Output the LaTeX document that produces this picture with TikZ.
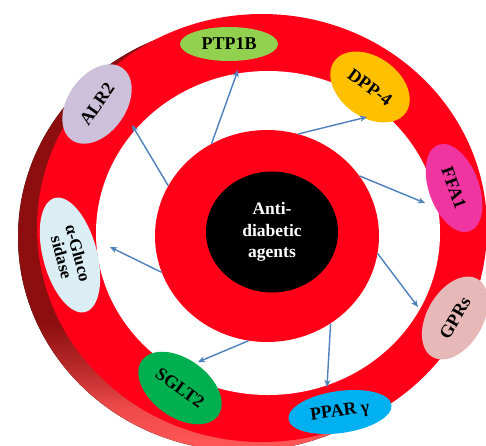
\documentclass[tikz,border=0pt]{standalone}
\usepackage{fontspec}
\setmainfont{Liberation Serif}
\usetikzlibrary{shapes.geometric,arrows.meta}

\definecolor{ringred}{RGB}{255,0,24}
\definecolor{sidedark}{RGB}{140,14,14}
\definecolor{sidelight}{RGB}{255,85,85}
\definecolor{arrowblue}{RGB}{79,129,189}
\definecolor{ptpgreen}{RGB}{146,208,80}
\definecolor{dppgold}{RGB}{255,192,0}
\definecolor{ffapink}{RGB}{240,52,160}
\definecolor{gprrose}{RGB}{230,185,184}
\definecolor{pparblue}{RGB}{0,176,240}
\definecolor{sgltgreen}{RGB}{0,176,80}
\definecolor{glucoblue}{RGB}{218,238,243}
\definecolor{alrlilac}{RGB}{204,192,218}

\pgfdeclareverticalshading{ringside}{100bp}{color(0bp)=(sidelight); color(26bp)=(sidelight); color(30bp)=(sidelight!85!sidedark); color(34bp)=(sidelight!45!sidedark); color(40bp)=(sidedark); color(100bp)=(sidedark)}

\tikzset{
  target/.style={ellipse, inner sep=0pt, font=\fontsize{18}{19}\selectfont\bfseries, text=black},
  link/.style={line width=0.5mm, color=arrowblue, -{Stealth[length=7pt, width=6pt, inset=2pt]}}
}

\begin{document}
\begin{tikzpicture}[x=1pt, y=-1pt]
		%%%%% START %%%%%
		\useasboundingbox (0, 0) rectangle (486, 445);
		
		% ring: side, face and hole
		\fill[shading=ringside] (243, 237) ellipse (225 and 214);
		\fill[ringred] (262, 228) ellipse (225 and 214);
		\fill[white] (268, 233) ellipse (172 and 162);
		
		% hub
		\node[ellipse, fill=ringred, inner sep=0pt, minimum width=224pt, minimum height=212pt] (hub) at (267, 236) {};
		\node[ellipse, fill=black, inner sep=0pt, minimum width=132pt, minimum height=121pt, text=white, align=center,
		      font=\fontsize{17.5}{21.5}\selectfont\bfseries] (core) at (272, 232) {Anti-\\diabetic\\agents};
		
		% targets
		\node[target, fill=ptpgreen, minimum width=98pt, minimum height=34pt] (ptp) at (229, 44) {PTP1B};
		\node[target, fill=dppgold, minimum width=88pt, minimum height=60pt, rotate=-36] (dpp) at (370, 87) {DPP-4};
		\node[target, fill=ffapink, minimum width=92pt, minimum height=50pt, rotate=-70] (ffa) at (454, 188) {FFA1};
		\node[target, fill=gprrose, minimum width=90pt, minimum height=56pt, rotate=60] (gpr) at (455, 318) {GPRs};
		\node[target, fill=pparblue, minimum width=104pt, minimum height=42pt, rotate=8] (ppar) at (340, 412) {PPAR γ};
		\node[target, fill=sgltgreen, minimum width=94pt, minimum height=58pt, rotate=-36] (sglt) at (180, 388) {SGLT2};
		\node[target, fill=glucoblue, minimum width=118pt, minimum height=54pt, rotate=-75, align=center,
		      font=\fontsize{17}{17}\selectfont\bfseries] (gluco) at (70, 255) {α-Gluco\\sidase};
		\node[target, fill=alrlilac, minimum width=88pt, minimum height=58pt, rotate=55] (alr) at (97, 104) {ALR2};
		
		% arrow tips in the white gap
		\coordinate (ptp-in) at (238, 70);
		\coordinate (dpp-in) at (367, 117);
		\coordinate (ffa-in) at (425, 203);
		\coordinate (gpr-in) at (418, 307);
		\coordinate (ppar-in) at (327, 387);
		\coordinate (sglt-in) at (198, 362);
		\coordinate (gluco-in) at (110, 247);
		\coordinate (alr-in) at (132, 125);
		
		\draw[link] (hub.121) -- (ptp-in);
		\draw[link] (hub.73) -- (dpp-in);
		\draw[link] (hub.33) -- (ffa-in);
		\draw[link] (hub.-9) -- (gpr-in);
		\draw[link] (hub.-54) -- (ppar-in);
		\draw[link] (hub.-100) -- (sglt-in);
		\draw[link] (hub.199) -- (gluco-in);
		\draw[link] (hub.153) -- (alr-in);
		
		%%%%% END %%%%%
	\end{tikzpicture}
\end{document}
